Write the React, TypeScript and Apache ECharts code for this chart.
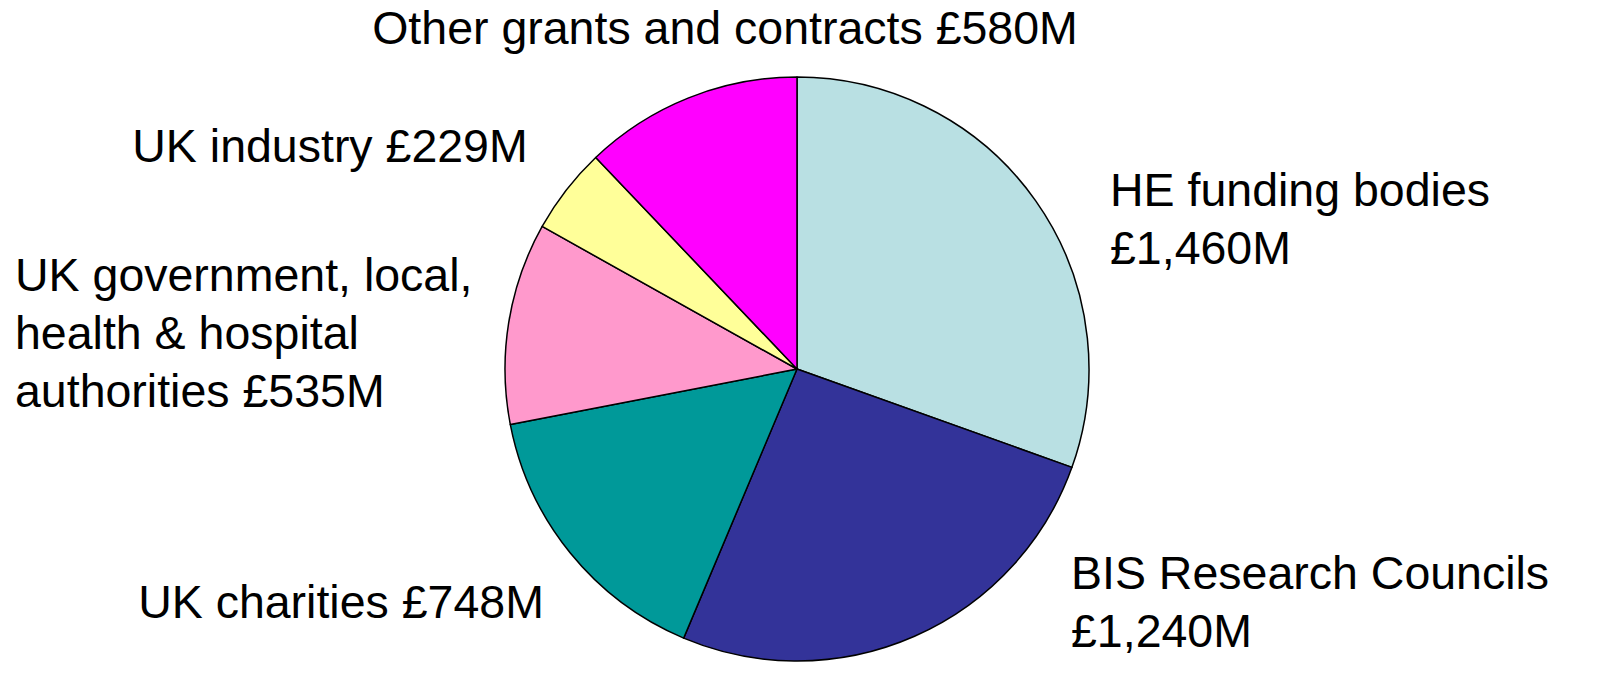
import React, { useEffect, useRef } from "react";
import * as echarts from "echarts";

const categories = [
  "HE funding bodies",
  "BIS Research Councils",
  "UK charities",
  "UK government, local, health & hospital authorities",
  "UK industry",
  "Other grants and contracts",
];
const values = [1460, 1240, 748, 535, 229, 580];
const valueLabels = ["£1,460M", "£1,240M", "£748M", "£535M", "£229M", "£580M"];
const labelTexts = [
  "HE funding bodies\n£1,460M",
  "BIS Research Councils\n£1,240M",
  "UK charities £748M",
  "UK government, local,\nhealth & hospital\nauthorities £535M",
  "UK industry £229M",
  "Other grants and contracts £580M",
];
const colors = ["#B9E0E3", "#333399", "#009999", "#FF99CC", "#FFFF99", "#FF00FF"];

// label layout (x, y of block, alignment)
const labelPlacement = [
  { x: 1110, y: 219, align: "left" },
  { x: 1071, y: 602, align: "left" },
  { x: 341, y: 602, align: "center" },
  { x: 15, y: 333, align: "left" },
  { x: 330, y: 146, align: "center" },
  { x: 725, y: 28, align: "center" },
];

export default function App() {
  const ref = useRef<HTMLDivElement>(null);
  useEffect(() => {
    document.body.style.margin = "0";
    if (!ref.current) return;
    const chart = echarts.init(ref.current, null, { renderer: "svg" });
    chart.setOption({
      animation: false,
      backgroundColor: "#ffffff",
      series: [
        {
          type: "pie",
          center: [797, 369],
          radius: 292,
          startAngle: 90,
          clockwise: true,
          avoidLabelOverlap: false,
          itemStyle: { borderColor: "#000000", borderWidth: 1.5 },
          label: {
            show: true,
            position: "outside",
            color: "#000000",
            fontFamily: "Liberation Sans, Arial, sans-serif",
            fontSize: 46.5,
            lineHeight: 58,
            formatter: (p: any) => labelTexts[p.dataIndex],
          },
          labelLine: { show: false },
          labelLayout: (p: any) => {
            const l = labelPlacement[p.dataIndex];
            return { x: l.x, y: l.y, align: l.align, verticalAlign: "middle" };
          },
          emphasis: { disabled: true },
          data: categories.map((name, i) => ({
            name,
            value: values[i],
            itemStyle: { color: colors[i] },
          })),
        },
      ],
    });
    return () => chart.dispose();
  }, []);
  return <div ref={ref} style={{ width: 1602, height: 675 }} />;
}
